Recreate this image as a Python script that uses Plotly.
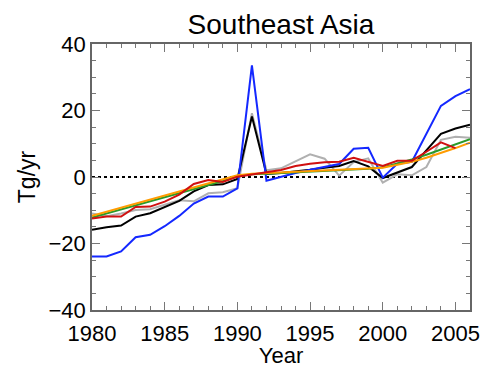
import plotly.graph_objects as go

years = list(range(1980, 2007))

blue = [-23.9, -23.9, -22.4, -18.1, -17.4, -14.8, -11.7, -8.0, -5.9, -5.9, -3.4, 33.6, -1.1,
        0.1, 1.2, 2.2, 3.0, 3.9, 8.5, 8.8, -0.2, 4.0, 4.6, 12.8, 21.4, 24.3, 26.4]
black = [-15.9, -15.1, -14.6, -11.9, -10.9, -9.1, -7.2, -4.3, -2.4, -2.2, -0.6, 18.2, 0.9,
         1.2, 1.6, 2.2, 2.8, 3.3, 4.8, 3.2, -0.3, 1.3, 3.0, 8.0, 13.0, 14.6, 15.7]
gray = [-11.0, -11.8, -11.0, -9.9, -9.7, -8.4, -7.0, -7.3, -4.9, -4.6, -3.4, 19.2, 2.0,
        2.6, 4.6, 6.8, 5.5, 0.4, 4.5, 5.6, -1.7, 0.8, 0.5, 3.0, 11.2, 12.1, 11.8]
red = [-12.5, -11.9, -11.9, -9.0, -8.9, -7.4, -5.3, -2.1, -0.9, -1.5, 0.1, 0.8, 1.3,
       2.1, 3.3, 4.0, 4.4, 4.6, 5.8, 4.5, 3.3, 4.9, 4.9, 7.6, 10.4, 8.7]
green = [-12.2, -11.0, -9.8, -8.6, -7.4, -6.2, -5.0, -3.7, -2.4, -1.2, 0.2, 0.8, 1.0,
         1.2, 1.4, 1.6, 1.8, 2.0, 2.2, 2.5, 2.9, 4.0, 5.3, 6.7, 8.2, 9.8, 11.4]
orange = [-11.7, -10.5, -9.3, -8.1, -6.9, -5.6, -4.5, -3.3, -2.1, -0.9, 0.5, 1.0, 1.2,
          1.4, 1.6, 1.8, 2.0, 2.1, 2.3, 2.5, 2.8, 3.7, 4.6, 5.8, 7.2, 8.7, 10.3]

series = [
    (gray, "#b0b0b0"),
    (black, "#000000"),
    (blue, "#1428ff"),
    (green, "#2a9a2a"),
    (orange, "#ff9c00"),
    (red, "#d01010"),
]

fig = go.Figure()
for vals, col in series:
    fig.add_trace(go.Scatter(x=years[:len(vals)], y=vals, mode="lines",
                             line=dict(color=col, width=2), showlegend=False))

fig.add_shape(type="line", xref="paper", x0=0, x1=1, yref="y", y0=0, y1=0,
              line=dict(color="black", width=2, dash="dot"), layer="below")

font = "Liberation Sans, Arial, Helvetica, sans-serif"
axis_common = dict(showgrid=False, zeroline=False, showline=True, linecolor="#666666",
                   linewidth=1.5, mirror="ticks", ticks="inside", tickcolor="#777777",
                   tickwidth=1, ticklen=8, automargin=False,
                   tickfont=dict(size=22, color="black", family=font))

fig.update_layout(
    width=483, height=368,
    margin=dict(l=92, r=13, t=44, b=58),
    paper_bgcolor="white", plot_bgcolor="white",
    title=dict(text="Southeast Asia", x=(92 + 470) / 2 / 483, xanchor="center",
               y=1 - 24 / 368, yanchor="middle", yref="container",
               font=dict(size=28, color="black", family=font)),
    xaxis=dict(range=[1980, 2006], tick0=1980, dtick=5, ticklabelstandoff=3,
               minor=dict(ticks="inside", dtick=1, ticklen=4, tickcolor="#777777"),
               title=dict(text="Year", font=dict(size=22, color="black", family=font), standoff=2),
               **axis_common),
    yaxis=dict(range=[-40, 40], tick0=-40, dtick=20,
               minor=dict(ticks="inside", dtick=5, ticklen=4, tickcolor="#777777"),
               title=dict(text="Tg/yr", font=dict(size=23, color="black", family=font), standoff=6),
               **axis_common),
)

fig.write_html("out.html")
